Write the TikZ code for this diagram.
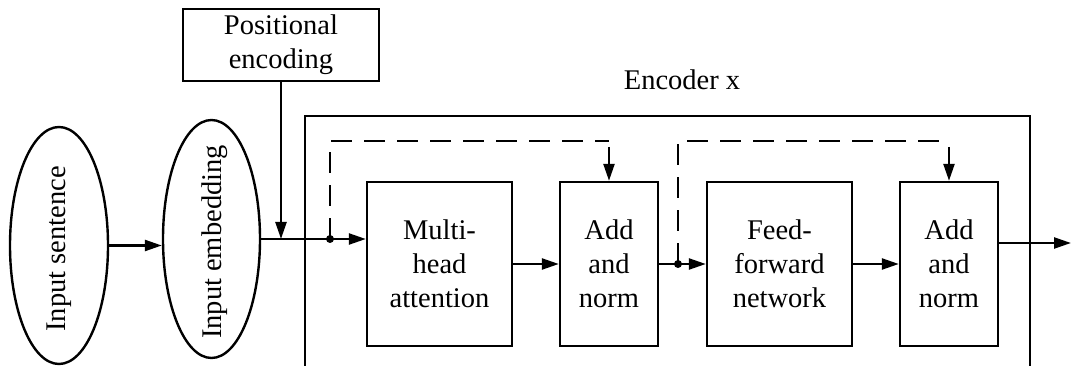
\documentclass[tikz,border=0pt]{standalone}
\usepackage{fontspec}
\setmainfont{Liberation Serif}
\usetikzlibrary{arrows.meta,shapes.geometric,calc}

\tikzset{
  txt/.style={font=\fontsize{28.5}{34}\selectfont, align=center, inner sep=0pt},
  blk/.style={txt, draw, line width=2.4pt},
  ell/.style={ellipse, draw, line width=2.4pt, inner sep=0pt},
  wire/.style={line width=2.4pt},
  arr/.style={wire, -{Triangle[length=17pt,width=11pt]}},
  skip/.style={wire, dash pattern=on 21pt off 12pt},
  junction/.style={circle, fill, inner sep=0pt, minimum size=8pt}
}

\begin{document}
\begin{tikzpicture}[x=1pt,y=-1pt]
  \useasboundingbox (0,0) rectangle (1071,366);

  % input side
  \node[ell, minimum width=98pt, minimum height=237pt] (sent) at (59,245.5) {};
  \node[txt, rotate=90] (senttxt) at (59,249) {Input sentence};
  \node[ell, minimum width=97pt, minimum height=238pt] (emb) at (211.5,239) {};
  \node[txt, rotate=90] (embtxt) at (215,242) {Input embedding};
  \node[blk, minimum width=196pt, minimum height=72pt] (pe) at (281,45) {Positional\\encoding};

  % encoder frame (open at the bottom)
  \draw[wire] (305,366) |- (1030,116) -- (1030,366);
  \node[txt] (enclbl) at (682,80) {Encoder x};

  % encoder blocks
  \node[blk, minimum width=145pt, minimum height=164pt] (mha) at (439.5,264) {Multi-\\head\\attention};
  \node[blk, minimum width=98pt, minimum height=164pt] (an1) at (609,264) {Add\\and\\norm};
  \node[blk, minimum width=145pt, minimum height=164pt] (ffn) at (779.5,264) {Feed-\\forward\\network};
  \node[blk, minimum width=98pt, minimum height=164pt] (an2) at (949,264) {Add\\and\\norm};

  % main data path
  \draw[arr] (sent.east) -- (sent.east -| emb.west);
  \draw[arr] (emb.east) -- (emb.east -| mha.west);
  \draw[arr] (pe.south) -- (pe.south |- emb.east);
  \draw[arr] (mha.east) -- (an1.west);
  \draw[arr] (an1.east) -- (ffn.west);
  \draw[arr] (ffn.east) -- (an2.west);
  \coordinate (outpt) at (1071,243);
  \draw[arr] (an2.east |- outpt) -- (outpt);

  % residual connections
  \node[junction] (j1) at (330,239) {};
  \node[junction] (j2) at (678,264) {};
  \coordinate (c1) at (an1.north |- 0,141);
  \coordinate (c2) at (an2.north |- 0,141);
  \draw[skip] (j1.center) |- (c1);
  \draw[arr] ($(c1)+(0,6)$) -- (an1.north);
  \draw[skip] (j2.center) |- (c2);
  \draw[arr] ($(c2)+(0,6)$) -- (an2.north);
\end{tikzpicture}
\end{document}
